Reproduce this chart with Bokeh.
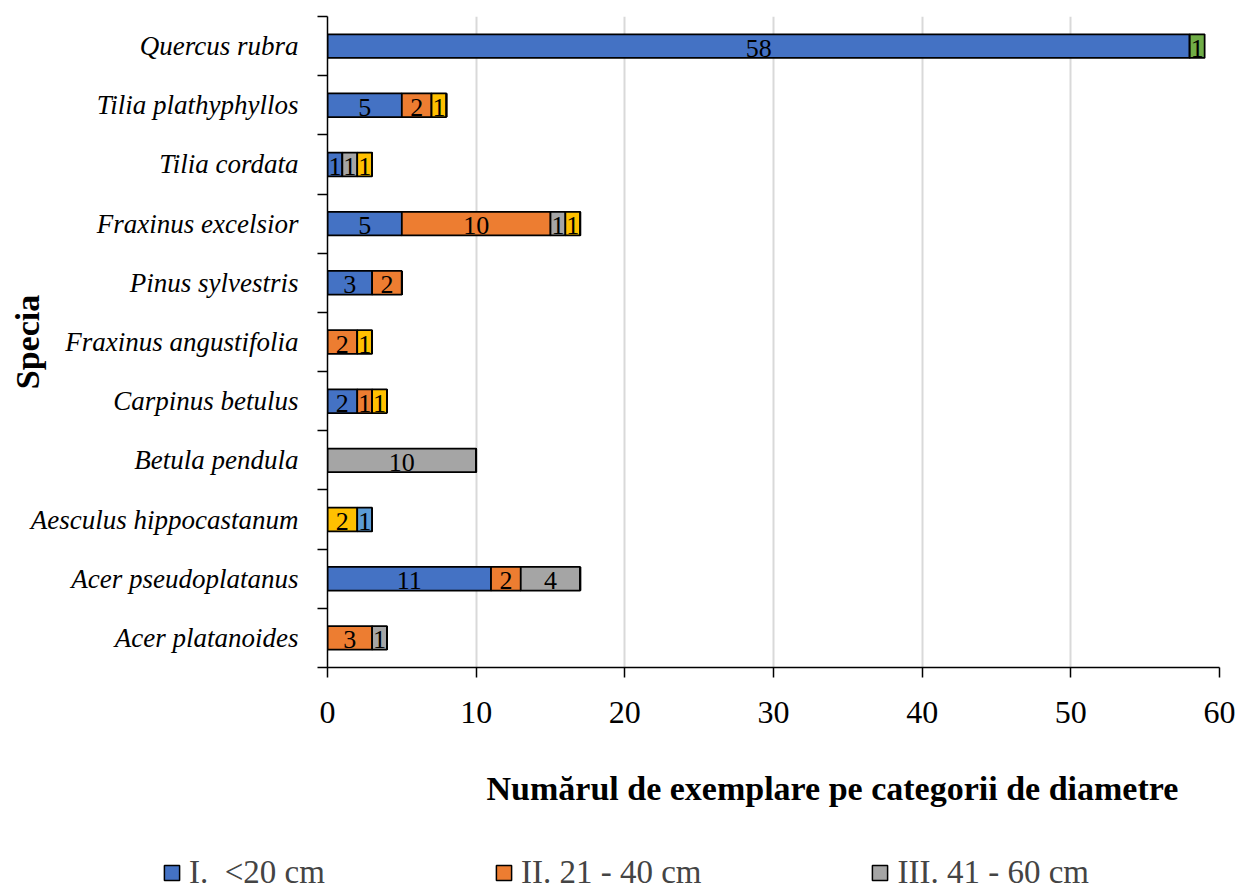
from bokeh.plotting import figure
from bokeh.models import (ColumnDataSource, FixedTicker, LabelSet, Legend, LegendItem,
                          Title, Range1d)
from bokeh.embed import file_html
from bokeh.resources import INLINE

species = ["Acer platanoides", "Acer pseudoplatanus", "Aesculus hippocastanum",
           "Betula pendula", "Carpinus betulus", "Fraxinus angustifolia",
           "Pinus sylvestris", "Fraxinus excelsior", "Tilia cordata",
           "Tilia plathyphyllos", "Quercus rubra"]
cat_I = [0, 11, 0, 0, 2, 0, 3, 5, 1, 5, 58]
cat_II = [3, 2, 0, 0, 1, 2, 2, 10, 0, 2, 0]
cat_III = [1, 4, 0, 10, 0, 0, 0, 1, 1, 0, 0]
cat_IV = [0, 0, 2, 0, 1, 1, 0, 1, 1, 1, 0]
cat_V = [0, 0, 1, 0, 0, 0, 0, 0, 0, 0, 0]
cat_VI = [0, 0, 0, 0, 0, 0, 0, 0, 0, 0, 1]
series_names = ["I.  <20 cm", "II. 21 - 40 cm", "III. 41 - 60 cm",
                "IV. 61 - 80 cm", "V. 81 - 100 cm", "VI. >100 cm"]
x_ticks = [0, 10, 20, 30, 40, 50, 60]

colors = ["#4472C4", "#ED7D31", "#A5A5A5", "#FFC000", "#5B9BD5", "#70AD47"]
FONT = "Liberation Serif"
W, H = 1237, 893
LEG_H = 45
MAIN_H = H - LEG_H

series = [cat_I, cat_II, cat_III, cat_IV, cat_V, cat_VI]
keys = ["s%d" % i for i in range(len(series))]
ypos = list(range(len(species)))
data = {"y": ypos}
for k, s in zip(keys, series):
    data[k] = s
source = ColumnDataSource(data)

p = figure(width=W, height=MAIN_H, output_backend="svg", toolbar_location=None,
           x_range=Range1d(0, 60), y_range=Range1d(-0.5, len(species) - 0.5),
           min_border_left=327, min_border_top=16, min_border_right=W - 1219,
           min_border_bottom=MAIN_H - 668)
p.outline_line_color = None

renderers = p.hbar_stack(keys, y="y", height=0.4, color=colors, source=source,
                         line_color="black", line_width=1.75)

# value labels
lx, ly, lt = [], [], []
cum = [0] * len(species)
for s in series:
    for i, v in enumerate(s):
        if v:
            lx.append(cum[i] + v / 2)
            ly.append(i)
            lt.append(str(v))
        cum[i] += v
lab_src = ColumnDataSource(dict(x=lx, y=ly, t=lt))
p.add_layout(LabelSet(x="x", y="y", text="t", source=lab_src, text_align="center",
                      text_baseline="middle", y_offset=-2, text_font=FONT,
                      text_font_size="26px", text_color="black"))

# x axis
xa = p.xaxis[0]
xa.ticker = FixedTicker(ticks=x_ticks)
xa.major_tick_out = 10
xa.major_tick_in = 0
xa.major_tick_line_color = "black"
xa.major_tick_line_width = 1.5
xa.minor_tick_out = 0
xa.minor_tick_in = 0
xa.major_label_standoff = 24
xa.major_label_text_font = FONT
xa.major_label_text_font_size = "32px"
xa.major_label_text_color = "black"
xa.axis_line_color = "black"
xa.axis_line_width = 1.5

# y axis
ya = p.yaxis[0]
ya.ticker = FixedTicker(ticks=ypos, minor_ticks=[i - 0.5 for i in range(len(species) + 1)])
ya.major_label_overrides = {i: n for i, n in enumerate(species)}
ya.major_tick_out = 0
ya.major_tick_in = 0
ya.minor_tick_out = 10
ya.minor_tick_in = 0
ya.minor_tick_line_color = "black"
ya.minor_tick_line_width = 1.5
ya.axis_line_color = "black"
ya.axis_line_width = 1.5
ya.major_label_standoff = 19
ya.major_label_text_font = FONT
ya.major_label_text_font_style = "italic"
ya.major_label_text_font_size = "27px"
ya.major_label_text_color = "black"
ya.axis_label = "Specia"
ya.axis_label_standoff = -18
ya.axis_label_text_font = FONT
ya.axis_label_text_font_style = "bold"
ya.axis_label_text_font_size = "34px"
ya.axis_label_text_color = "black"

p.ygrid.grid_line_color = None
p.xgrid.grid_line_color = "#D9D9D9"
p.xgrid.grid_line_width = 2

t = Title(text="Numărul de exemplare pe categorii de diametre", align="left", offset=159,
          text_font=FONT, text_font_style="bold", text_font_size="34px",
          text_color="black", standoff=84)
p.add_layout(t, "below")

# legend strip: a separate root figure whose frame spans the full width;
# its stacked bars lie far outside its visible ranges and only feed the legend
pl = figure(width=W, height=LEG_H, output_backend="svg", toolbar_location=None,
            x_range=Range1d(-1000, -999), y_range=Range1d(1000, 1001),
            x_axis_location=None, y_axis_location=None,
            min_border_left=0, min_border_right=0, min_border_top=0,
            min_border_bottom=0)
pl.grid.grid_line_color = None
pl.outline_line_color = None
proxies = pl.hbar_stack(keys, y="y", height=0.4, color=colors, source=source,
                        line_color="black", line_width=1.5)
legend = Legend(items=[LegendItem(label=series_names[i], renderers=[proxies[i]])
                       for i in range(3)],
                orientation="horizontal", location=(162, 2),
                label_text_font=FONT, label_text_font_size="33px",
                label_standoff=8, glyph_width=19, glyph_height=19,
                spacing=169, padding=0, margin=0, border_line_color=None,
                background_fill_alpha=0)
pl.add_layout(legend, "center")

open("out.html", "w").write(file_html([p, pl], INLINE))
